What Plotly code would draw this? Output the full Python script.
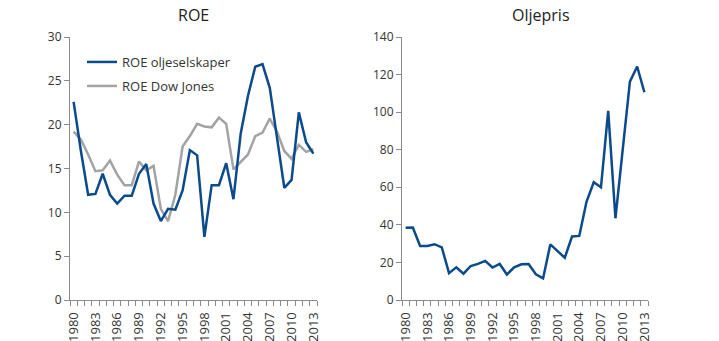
import plotly.graph_objects as go

years = list(range(1980, 2014))

roe_olje = [22.6, 17.0, 12.0, 12.1, 14.4, 12.0, 11.0, 11.9, 11.9, 14.4, 15.5,
            11.0, 9.0, 10.4, 10.3, 12.5, 17.1, 16.5, 7.2, 13.1, 13.1, 15.6,
            11.5, 19.0, 23.3, 26.6, 26.9, 24.2, 18.5, 12.8, 13.7, 21.4, 18.0, 16.7]

roe_dow = [19.2, 18.3, 16.6, 14.7, 14.8, 15.9, 14.3, 13.1, 13.1, 15.8, 14.8,
           15.3, 10.4, 9.0, 12.0, 17.5, 18.7, 20.1, 19.8, 19.7, 20.8, 20.1,
           14.9, 15.8, 16.6, 18.7, 19.1, 20.7, 19.2, 17.0, 16.1, 17.7, 16.9, 17.2]

oljepris = [38.5, 38.6, 28.8, 28.8, 29.7, 28.0, 14.3, 17.4, 14.0, 18.1, 19.2,
            20.8, 17.3, 19.2, 13.6, 17.4, 19.0, 19.2, 13.7, 11.5, 29.6, 26.0,
            22.5, 33.8, 34.1, 52.3, 62.7, 60.0, 100.7, 43.5, 80.0, 116.2, 124.3, 110.6]

label_years = list(range(1980, 2014, 3))

BLUE = "#0b4a8b"
GREY = "#a3a3a3"
AXIS = "#8a8a8a"
TEXT = "#333333"
FONT = "Open Sans"

W, H = 719, 341

def px_x(v):
    return v / W

def px_y(v):
    return 1 - v / H

fig = go.Figure()

# grey ROE line first so the blue one is drawn on top
fig.add_trace(go.Scatter(x=years, y=roe_dow, mode="lines", name="ROE Dow Jones",
                         line=dict(color=GREY, width=2.5), xaxis="x", yaxis="y",
                         legend="legend2"))
fig.add_trace(go.Scatter(x=years, y=roe_olje, mode="lines", name="ROE oljeselskaper",
                         line=dict(color=BLUE, width=2.5), xaxis="x", yaxis="y",
                         legend="legend"))
fig.add_trace(go.Scatter(x=years, y=oljepris, mode="lines", name="Oljepris",
                         line=dict(color=BLUE, width=2.5), xaxis="x2", yaxis="y2",
                         showlegend=False))

xaxis_common = dict(
    range=[1979.5, 2013.5], tickmode="array", tickvals=label_years,
    ticktext=[str(y) for y in label_years], tickangle=-90, ticks="",
    ticklabelstandoff=6,
    showline=True, linecolor=AXIS, linewidth=1, showgrid=False, zeroline=False,
    automargin=False,
    tickfont=dict(family=FONT, size=13, color=TEXT),
    minor=dict(tickmode="linear", tick0=1979.5, dtick=1, ticks="outside",
               ticklen=5, tickcolor=AXIS, tickwidth=1, showgrid=False),
)
yaxis_common = dict(
    showline=True, linecolor=AXIS, linewidth=1, showgrid=False, zeroline=False,
    ticks="outside", ticklen=5, tickcolor=AXIS, automargin=False,
    tickfont=dict(family=FONT, size=12, color=TEXT),
)

fig.update_layout(
    width=W, height=H,
    margin=dict(l=0, r=0, t=0, b=0, autoexpand=False),
    paper_bgcolor="white", plot_bgcolor="white",
    font=dict(family=FONT, color=TEXT),
    xaxis=dict(domain=[px_x(70), px_x(317)], anchor="y", **xaxis_common),
    yaxis=dict(domain=[px_y(300), px_y(37)], anchor="x", range=[0, 30],
               tickvals=list(range(0, 31, 5)), **yaxis_common),
    xaxis2=dict(domain=[px_x(402), px_x(648)], anchor="y2", **xaxis_common),
    yaxis2=dict(domain=[px_y(300), px_y(37)], anchor="x2", range=[0, 140],
                tickvals=list(range(0, 141, 20)), **yaxis_common),
    legend=dict(x=px_x(82), y=px_y(47), xanchor="left", yanchor="top",
                bgcolor="rgba(0,0,0,0)", font=dict(family=FONT, size=13, color=TEXT)),
    legend2=dict(x=px_x(82), y=px_y(71), xanchor="left", yanchor="top",
                 bgcolor="rgba(0,0,0,0)", font=dict(family=FONT, size=13, color=TEXT)),
    annotations=[
        dict(text="ROE", x=px_x(193), y=px_y(15), xref="paper", yref="paper",
             xanchor="center", yanchor="middle", showarrow=False,
             font=dict(family=FONT, size=16, color="#222222")),
        dict(text="Oljepris", x=px_x(541), y=px_y(15), xref="paper", yref="paper",
             xanchor="center", yanchor="middle", showarrow=False,
             font=dict(family=FONT, size=16, color="#222222")),
    ],
)

fig.write_html("out.html")
